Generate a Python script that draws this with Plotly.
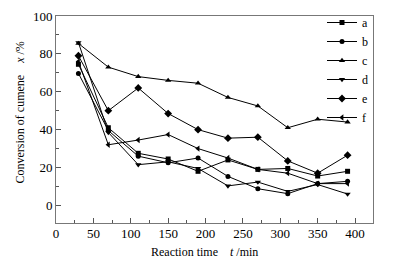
import plotly.graph_objects as go

time_min = [30, 70, 110, 150, 190, 230, 270, 310, 350, 390]
series_names = ["a", "b", "c", "d", "e", "f"]
a_vals = [74.5, 41, 27.5, 24.5, 18, 24, 19, 19.5, 15.5, 18]
b_vals = [69.7, 39.5, 26, 22.5, 25, 15.3, 8.8, 6.2, 11.5, 12.7]
c_vals = [85.5, 73, 68, 66, 64.5, 57, 52.5, 41, 45.5, 44]
d_vals = [86, 38.5, 21.5, 23, 19.5, 10.3, 12.3, 7.4, 11, 6]
e_vals = [79, 50, 62, 48.5, 40, 35.5, 36, 23.5, 17, 26.5]
f_vals = [76, 32, 34.5, 37.4, 30, 25, 19, 17, 11.5, 11.5]
x_ticks = [0, 50, 100, 150, 200, 250, 300, 350, 400]
y_ticks = [0, 20, 40, 60, 80, 100]

all_vals = [a_vals, b_vals, c_vals, d_vals, e_vals, f_vals]
symbols = ["square", "circle", "triangle-up", "triangle-down", "diamond", "triangle-left"]
sizes = [5, 5, 5.5, 5.5, 6, 5.5]

fig = go.Figure()
for name, vals, sym, sz in zip(series_names, all_vals, symbols, sizes):
    fig.add_trace(go.Scatter(
        x=time_min, y=vals, name=name, mode="lines+markers",
        line=dict(color="black", width=1),
        marker=dict(symbol=sym, size=sz, color="black"),
    ))

font_family = "Liberation Serif"
axis_common = dict(
    showline=True, linecolor="#777", linewidth=1, mirror=True,
    ticks="inside", ticklen=5, tickcolor="#555", tickwidth=1,
    showgrid=False, zeroline=False, automargin=False,
    tickfont=dict(family=font_family, size=13, color="black"),
)
fig.update_xaxes(
    range=[0, 424], tickvals=x_ticks, ticklabelstandoff=-2,
    minor=dict(ticks="inside", ticklen=3, dtick=25, tick0=0, tickcolor="#555"),
    **axis_common,
)
fig.update_yaxes(
    range=[-9.3, 100], tickvals=y_ticks,
    minor=dict(ticks="inside", ticklen=3, dtick=10, tick0=0, tickcolor="#555"),
    **axis_common,
)
fig.add_annotation(
    text="Reaction time &nbsp;&nbsp;&nbsp;<i>t</i> /min",
    xref="paper", yref="paper", x=0.468, y=0, yshift=-29,
    xanchor="center", yanchor="middle", showarrow=False,
    font=dict(family=font_family, size=12, color="black"),
)
fig.add_annotation(
    text="Conversion of cumene &nbsp;&nbsp;&nbsp;<i>x</i> /%",
    xref="paper", yref="paper", x=0, xshift=-36, y=0.534,
    xanchor="center", yanchor="middle", showarrow=False, textangle=-90,
    font=dict(family=font_family, size=12, color="black"),
)
# page body has an 8px margin, so the figure is sized/offset to fit the 394x263 window
fig.update_layout(
    width=386, height=255,
    margin=dict(l=48, r=21, t=8, b=40, autoexpand=False),
    plot_bgcolor="white", paper_bgcolor="white",
    font=dict(family=font_family, color="black"),
    legend=dict(x=1.0, xanchor="right", y=1.0, yanchor="top", yref="container",
                bgcolor="rgba(0,0,0,0)", font=dict(family=font_family, size=12),
                tracegroupgap=0, itemwidth=30),
    showlegend=True,
)
fig.write_html("out.html")
